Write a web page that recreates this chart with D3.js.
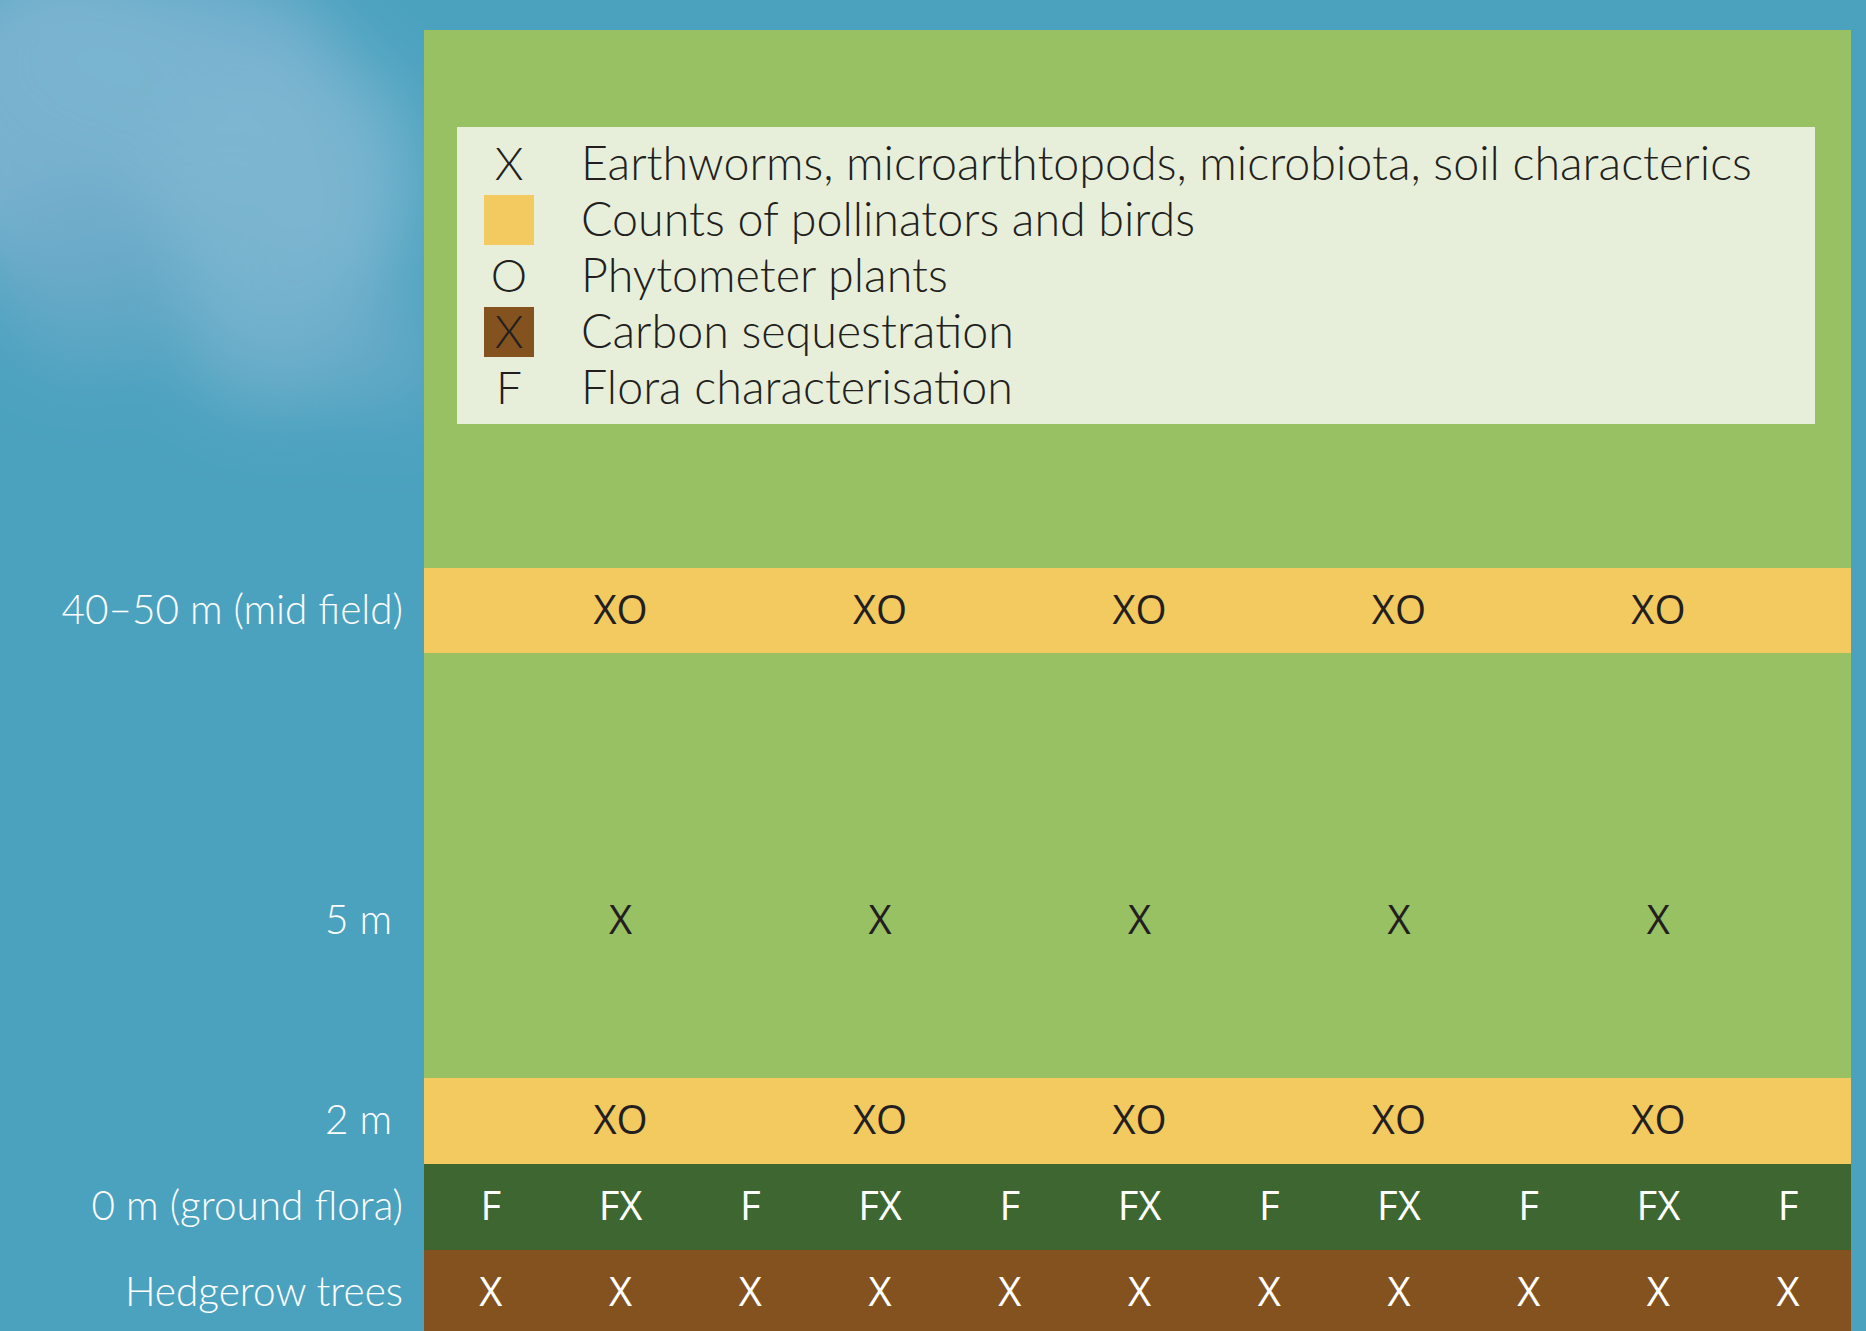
<!DOCTYPE html>
<html lang="en">
<head>
  <meta charset="UTF-8">
  <title>Hedgerow sampling layout</title>
  <style>
  body { margin: 0; background: #4ba2bf; }
  #chart { width: 1866px; height: 1331px; overflow: hidden; }
  .label { font-family: Lato, "Open Sans", sans-serif; font-weight: 300; fill: #fff; white-space: pre; }
  .legend text { font-family: Lato, "Open Sans", sans-serif; font-weight: 300; fill: #231f20; }
  .mark { font-family: "Open Sans", sans-serif; font-weight: 400; }
  </style>
  <script src="https://d3js.org/d3.v7.min.js"></script>
</head>
<body>
<div id="chart"></div>
<script>
// ---- data ----
var columns = ["1","2","3","4","5","6","7","8","9","10","11"];
var rowLabels = ["40\u201350 m (mid field)", "5 m\u00a0", "2 m\u00a0", "0 m (ground flora)", "Hedgerow trees"];
var midField = ["", "XO", "", "XO", "", "XO", "", "XO", "", "XO", ""];
var fiveM    = ["", "X",  "", "X",  "", "X",  "", "X",  "", "X",  ""];
var twoM     = ["", "XO", "", "XO", "", "XO", "", "XO", "", "XO", ""];
var ground   = ["F", "FX", "F", "FX", "F", "FX", "F", "FX", "F", "FX", "F"];
var trees    = ["X", "X", "X", "X", "X", "X", "X", "X", "X", "X", "X"];
var marks = [midField, fiveM, twoM, ground, trees];

var legendSymbols = ["X", "", "O", "X", "F"];
var legendSwatch  = ["none", "pollinators", "none", "carbon", "none"];
var legendLabels  = [
  "Earthworms, microarthtopods, microbiota, soil characterics",
  "Counts of pollinators and birds",
  "Phytometer plants",
  "Carbon sequestration",
  "Flora characterisation"
];

// ---- layout / style ----
var W = 1866, H = 1331;
var panel = {left: 424, right: 1851, top: 30};
var bandTop = 568;
var rowHeights = [85, 425, 86, 86, 90];
var rowTextPos = [0.5, 0.63, 0.5, 0.5, 0.47];
var rowFill = ["#f3ca5f", "#98c164", "#f3ca5f", "#3d6630", "#83521e"];
var rowInk  = ["#231f20", "#231f20", "#231f20", "#ffffff", "#ffffff"];
var swatchFill = {pollinators: "#f3ca5f", carbon: "#83521e"};

var svg = d3.select("#chart").append("svg")
    .attr("width", W)
    .attr("height", H);

// cloudy sky background
var defs = svg.append("defs");
defs.append("filter").attr("id", "blur")
    .attr("x", "-50%").attr("y", "-50%").attr("width", "200%").attr("height", "200%")
  .append("feGaussianBlur").attr("stdDeviation", 34);

svg.append("rect").attr("width", W).attr("height", H).attr("fill", "#4ba2bf");

var clouds = svg.append("g").attr("filter", "url(#blur)");
var blobs = [
  {cx: 60, cy: 120, rx: 150, ry: 170, c: "#7bb3cf", o: 0.9},
  {cx: 170, cy: 60, rx: 170, ry: 90, c: "#7ab4d0", o: 0.9},
  {cx: 270, cy: 210, rx: 110, ry: 140, c: "#7fb7d2", o: 0.9},
  {cx: 340, cy: 180, rx: 80, ry: 120, c: "#7bb5d0", o: 0.8},
  {cx: 280, cy: 340, rx: 100, ry: 70, c: "#72b0cc", o: 0.8},
  {cx: 90, cy: 280, rx: 100, ry: 90, c: "#6aaac8", o: 0.7},
  {cx: 390, cy: 350, rx: 50, ry: 70, c: "#6cacc9", o: 0.6}
];
clouds.selectAll("ellipse").data(blobs).enter().append("ellipse")
    .attr("cx", function(d){ return d.cx; })
    .attr("cy", function(d){ return d.cy; })
    .attr("rx", function(d){ return d.rx; })
    .attr("ry", function(d){ return d.ry; })
    .attr("fill", function(d){ return d.c; })
    .attr("opacity", function(d){ return d.o; });

// field panel
svg.append("rect")
    .attr("x", panel.left).attr("y", panel.top)
    .attr("width", panel.right - panel.left).attr("height", H - panel.top)
    .attr("fill", "#98c164");

var x = d3.scaleBand().domain(columns).range([panel.left + 2, panel.right + 2]);

var rowStart = [];
rowHeights.reduce(function(acc, h){ rowStart.push(acc); return acc + h; }, bandTop);
var y = d3.scaleOrdinal().domain(rowLabels).range(rowStart);
function rowMid(i) { return rowStart[i] + rowHeights[i] * rowTextPos[i]; }

var rows = svg.selectAll(".row")
    .data(rowLabels)
    .enter().append("g")
    .attr("class", "row");

rows.append("rect")
    .attr("x", panel.left)
    .attr("y", function(d){ return y(d); })
    .attr("width", panel.right - panel.left)
    .attr("height", function(d, i){ return rowHeights[i]; })
    .attr("fill", function(d, i){ return rowFill[i]; });

rows.append("text")
    .attr("class", "label")
    .attr("x", 403)
    .attr("y", function(d, i){ return rowMid(i); })
    .attr("dy", "0.33em")
    .attr("text-anchor", "end")
    .attr("font-size", 40.5)
    .text(function(d){ return d; });

rows.each(function(d, i){
  d3.select(this).selectAll(".mark")
      .data(marks[i].map(function(m, j){ return {col: columns[j], m: m}; }).filter(function(e){ return e.m; }))
      .enter().append("text")
      .attr("class", "mark")
      .attr("x", function(e){ return x(e.col) + x.bandwidth() / 2; })
      .attr("y", rowMid(i))
      .attr("dy", "0.33em")
      .attr("text-anchor", "middle")
      .attr("font-size", 40)
      .attr("fill", rowInk[i])
      .text(function(e){ return e.m; });
});

// legend
var lg = svg.append("g").attr("class", "legend");
lg.append("rect")
    .attr("x", 457).attr("y", 127)
    .attr("width", 1815 - 457).attr("height", 424 - 127)
    .attr("fill", "#e7efda");

var ly = d3.scalePoint().domain(legendLabels).range([163, 387]);

var item = lg.selectAll(".item")
    .data(legendLabels)
    .enter().append("g")
    .attr("class", "item")
    .attr("transform", function(d){ return "translate(0," + ly(d) + ")"; });

item.filter(function(d, i){ return legendSwatch[i] !== "none"; })
  .append("rect")
    .attr("x", 484).attr("y", -24)
    .attr("width", 50).attr("height", 50)
    .attr("fill", function(d){ return swatchFill[legendSwatch[legendLabels.indexOf(d)]]; });

item.append("text")
    .attr("x", 509)
    .attr("dy", "0.36em")
    .attr("text-anchor", "middle")
    .attr("font-size", 46)
    .text(function(d, i){ return legendSymbols[i]; });

item.append("text")
    .attr("x", 581)
    .attr("dy", "0.36em")
    .attr("font-size", 46.6)
    .text(function(d){ return d; });
</script>
</body>
</html>
